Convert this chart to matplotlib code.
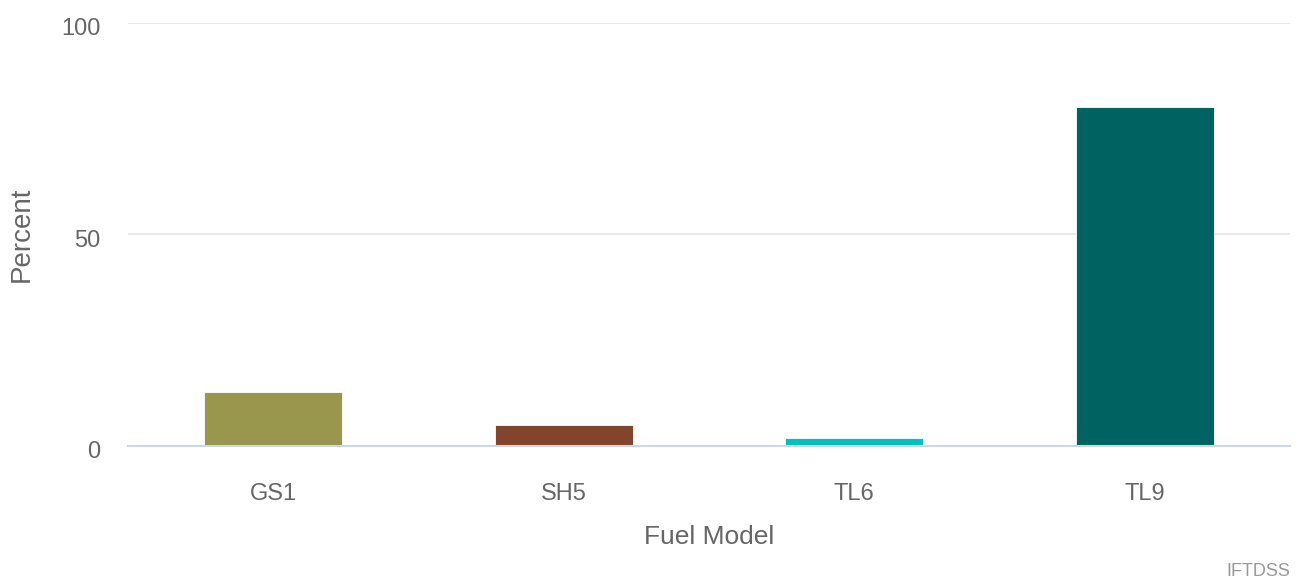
import matplotlib
matplotlib.use("Agg")
import matplotlib.pyplot as plt
from matplotlib.transforms import ScaledTranslation

# fuel model share of the area
categories = ['GS1', 'SH5', 'TL6', 'TL9']
percent = [12.8, 5.0, 1.8, 80.2]
bar_colors = ['#99964e', '#82442a', '#00c0bf', '#006361']
y_ticks = [0, 50, 100]

plt.rcParams['font.family'] = ['Liberation Sans', 'DejaVu Sans']
text_color = '#666666'

fig = plt.figure(figsize=(12.99, 5.85), dpi=100)
ax = fig.add_axes([128 / 1299, 1 - 446 / 585, (1290 - 128) / 1299, (446 - 23) / 585])

x = range(len(categories))
ax.bar(x, percent, width=0.475, color=bar_colors, edgecolor='white', linewidth=0.6, zorder=3)

ax.set_xlim(-0.5, len(categories) - 0.5)
ax.set_ylim(0, 100)
ax.set_yticks(y_ticks)
ax.set_xticks(list(x))
ax.set_xticklabels(categories)

ax.grid(axis='y', color='#e6e6e6', linewidth=1.2, zorder=0)
for s in ['top', 'right', 'left']:
    ax.spines[s].set_visible(False)
ax.spines['bottom'].set_color('#ccd6eb')
ax.spines['bottom'].set_linewidth(1.5)
ax.spines['bottom'].set_zorder(4)

ax.tick_params(axis='both', length=0, labelsize=17, labelcolor=text_color)
ax.tick_params(axis='y', pad=20)
ax.tick_params(axis='x', pad=27)
# y labels sit a little below their grid lines
for lbl in ax.get_yticklabels():
    lbl.set_transform(lbl.get_transform() + ScaledTranslation(0, -4 / 100, fig.dpi_scale_trans))

ax.set_xlabel('Fuel Model', fontsize=19, color=text_color)
ax.xaxis.set_label_coords(0.5, -(537 - 446) / 423, transform=ax.transAxes)
ax.xaxis.label.set_va('center')

ax.set_ylabel('Percent', fontsize=20, color=text_color)
ax.yaxis.set_label_coords(22 / 1299, 1 - 234 / 585, transform=fig.transFigure)
ax.yaxis.label.set_va('center')

fig.text(1290 / 1299, 1 - 572 / 585, 'IFTDSS', fontsize=13, color='#999999',
         ha='right', va='center')

fig.savefig('out.png', dpi=100)
